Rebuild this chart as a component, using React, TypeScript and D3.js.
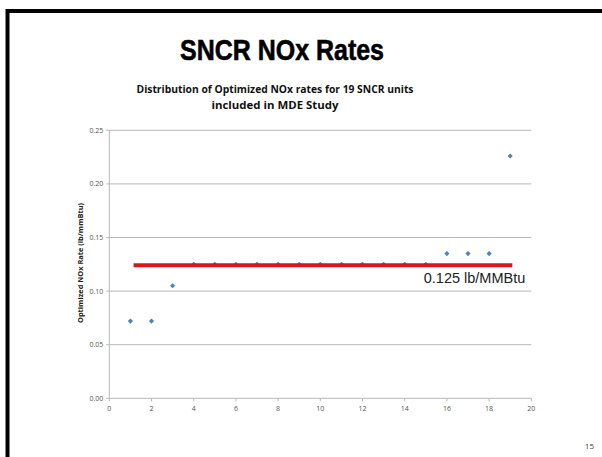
import React from "react";
import * as d3 from "d3";

const units = [1, 2, 3, 4, 5, 6, 7, 8, 9, 10, 11, 12, 13, 14, 15, 16, 17, 18, 19];
const noxRates = [0.072, 0.072, 0.105, 0.125, 0.125, 0.125, 0.125, 0.125, 0.125, 0.125, 0.125, 0.125, 0.125, 0.125, 0.125, 0.135, 0.135, 0.135, 0.226];
const yTicks = [0, 0.05, 0.1, 0.15, 0.2, 0.25];
const xTicks = [0, 2, 4, 6, 8, 10, 12, 14, 16, 18, 20];
const limitLine = { x0: 1.15, x1: 19.1, value: 0.124, label: "0.125 lb/MMBtu" };
const slideTitle = "SNCR NOx Rates";
const chartTitle = ["Distribution of Optimized NOx rates for 19 SNCR units", "included in MDE Study"];
const yAxisTitle = "Optimized NOx Rate (lb/mmBtu)";
const pageNumber = "15";

export default function App() {
  const W = 602, H = 457;
  const left = 109.3, right = 531.3, top = 130.3, bottom = 398.3;
  const x = d3.scaleLinear().domain([0, 20]).range([left, right]);
  const y = d3.scaleLinear().domain([0, 0.25]).range([bottom, top]);
  const diamond = d3.symbol().type(d3.symbolDiamond2).size(17)() as string;
  const tickFont = "'Open Sans', 'Liberation Sans', sans-serif";
  const subLens = [277, 127];
  return (
    <svg width={W} height={H} style={{ position: "absolute", left: 0, top: 0, background: "#fff" }}>
      <rect x={0} y={0} width={W} height={H} fill="#fff" />
      {/* slide frame */}
      <path d={`M7.5,${H + 5} L7.5,11 L${W + 5},11`} fill="none" stroke="#000" strokeWidth={4} />
      <text x={282} y={59.5} textAnchor="middle" fontFamily="'Liberation Sans', Arial, sans-serif" fontWeight="bold" fontSize={30} fill="#000" stroke="#000" strokeWidth={0.6} textLength={204} lengthAdjust="spacingAndGlyphs">{slideTitle}</text>
      {chartTitle.map((t, i) => (
        <text key={i} x={275} y={93 + i * 16} textAnchor="middle" fontFamily="'Open Sans', sans-serif" fontWeight={700} fontSize={11} fill="#111" textLength={subLens[i]} lengthAdjust="spacingAndGlyphs">{t}</text>
      ))}
      {/* gridlines */}
      {yTicks.slice(1).map((v) => (
        <line key={v} x1={left} x2={right} y1={y(v)} y2={y(v)} stroke="#b8b8b8" strokeWidth={1} />
      ))}
      {/* axes */}
      <line x1={left} x2={left} y1={top} y2={bottom} stroke="#b8b8b8" strokeWidth={1} />
      <line x1={left} x2={right} y1={bottom} y2={bottom} stroke="#b8b8b8" strokeWidth={1} />
      {yTicks.map((v) => (
        <g key={v}>
          <line x1={left - 3} x2={left} y1={y(v)} y2={y(v)} stroke="#b8b8b8" />
          <text x={left - 6} y={y(v)} dy="0.35em" textAnchor="end" fontFamily={tickFont} fontSize={7} fill="#555">{d3.format(".2f")(v)}</text>
        </g>
      ))}
      {xTicks.map((v) => (
        <g key={v}>
          <line x1={x(v)} x2={x(v)} y1={bottom} y2={bottom + 3} stroke="#b8b8b8" />
          <text x={x(v)} y={bottom + 10.5} dy="0.35em" textAnchor="middle" fontFamily={tickFont} fontSize={7} fill="#555">{v}</text>
        </g>
      ))}
      <text transform={`translate(81,${263}) rotate(-90)`} textAnchor="middle" dy="0.35em" fontFamily={tickFont} fontWeight="bold" fontSize={6.5} fill="#222" textLength={120} lengthAdjust="spacingAndGlyphs">{yAxisTitle}</text>
      {/* points */}
      {units.map((u, i) => (
        <path key={u} d={diamond} transform={`translate(${x(u)},${y(noxRates[i])})`} fill="#4f81bd" />
      ))}
      {/* limit line */}
      <line x1={x(limitLine.x0)} x2={x(limitLine.x1)} y1={y(limitLine.value)} y2={y(limitLine.value)} stroke="#d9161c" strokeWidth={4} />
      <text x={x(limitLine.x1) + 13} y={282.5} textAnchor="end" fontFamily="'Liberation Sans', Arial, sans-serif" fontSize={14.5} fill="#222">{limitLine.label}</text>
      <text x={594} y={449} textAnchor="end" fontFamily={tickFont} fontSize={8} fill="#444">{pageNumber}</text>
    </svg>
  );
}
